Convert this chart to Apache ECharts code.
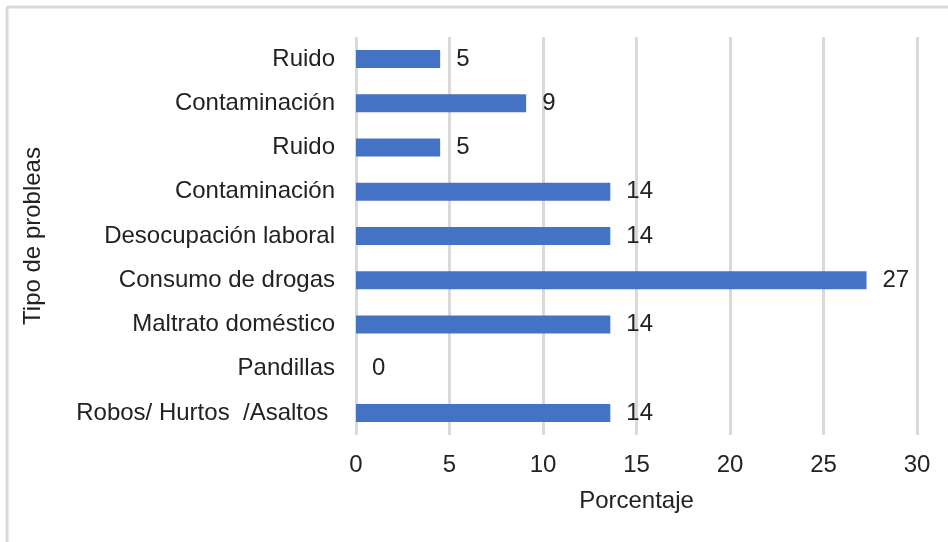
<!DOCTYPE html>
<html>
<head>
<meta charset="utf-8">
<script src="https://cdn.jsdelivr.net/npm/echarts@6/dist/echarts.min.js"></script>
<style>
  html, body { margin: 0; padding: 0; background: #fff; }
  #chart { width: 948px; height: 542px; }
</style>
</head>
<body>
<div id="chart"></div>
<script>
// categories listed bottom to top
var categorias = ['Robos/ Hurtos  /Asaltos ', 'Pandillas', 'Maltrato doméstico', 'Consumo de drogas',
    'Desocupación laboral', 'Contaminación', 'Ruido', 'Contaminación', 'Ruido'];
// bar lengths as drawn (labels show them rounded)
var porcentajes = [13.6, 0, 13.6, 27.3, 13.6, 13.6, 4.5, 9.1, 4.5];
var ticksX = [0, 5, 10, 15, 20, 25, 30];

var chart = echarts.init(document.getElementById('chart'));

var font = 'Liberation Sans, Arial, sans-serif';

var option = {
    animation: false,
    backgroundColor: '#ffffff',
    graphic: [
        { type: 'line', shape: { x1: 7, y1: 7, x2: 948, y2: 7 }, style: { stroke: '#d9d9d9', lineWidth: 3 } },
        { type: 'line', shape: { x1: 7, y1: 7, x2: 7, y2: 542 }, style: { stroke: '#d9d9d9', lineWidth: 3 } }
    ],
    grid: { left: 356, right: 31, top: 37, bottom: 107 },
    xAxis: {
        type: 'value',
        min: ticksX[0],
        max: ticksX[ticksX.length - 1],
        interval: 5,
        name: 'Porcentaje',
        nameLocation: 'middle',
        nameGap: 54,
        nameTextStyle: { fontFamily: font, fontSize: 24, color: '#222' },
        axisLine: { show: false },
        axisTick: { show: false },
        axisLabel: { fontFamily: font, fontSize: 24, color: '#222', margin: 18 },
        splitLine: { show: true, lineStyle: { color: '#d9d9d9', width: 3 } }
    },
    yAxis: {
        type: 'category',
        data: categorias,
        name: 'Tipo de probleas',
        nameLocation: 'middle',
        nameGap: 311,
        nameRotate: 90,
        nameTextStyle: { fontFamily: font, fontSize: 24, color: '#222' },
        axisLine: { show: false },
        axisTick: { show: false },
        axisLabel: { fontFamily: font, fontSize: 24, color: '#222', margin: 21 }
    },
    series: [{
        type: 'bar',
        data: porcentajes,
        barWidth: 18,
        itemStyle: { color: '#4472c4' },
        label: {
            show: true,
            position: 'right',
            distance: 16,
            fontFamily: font,
            fontSize: 24,
            color: '#222',
            formatter: function (p) { return Math.round(p.value); }
        }
    }]
};
chart.setOption(option);
</script>
</body>
</html>
